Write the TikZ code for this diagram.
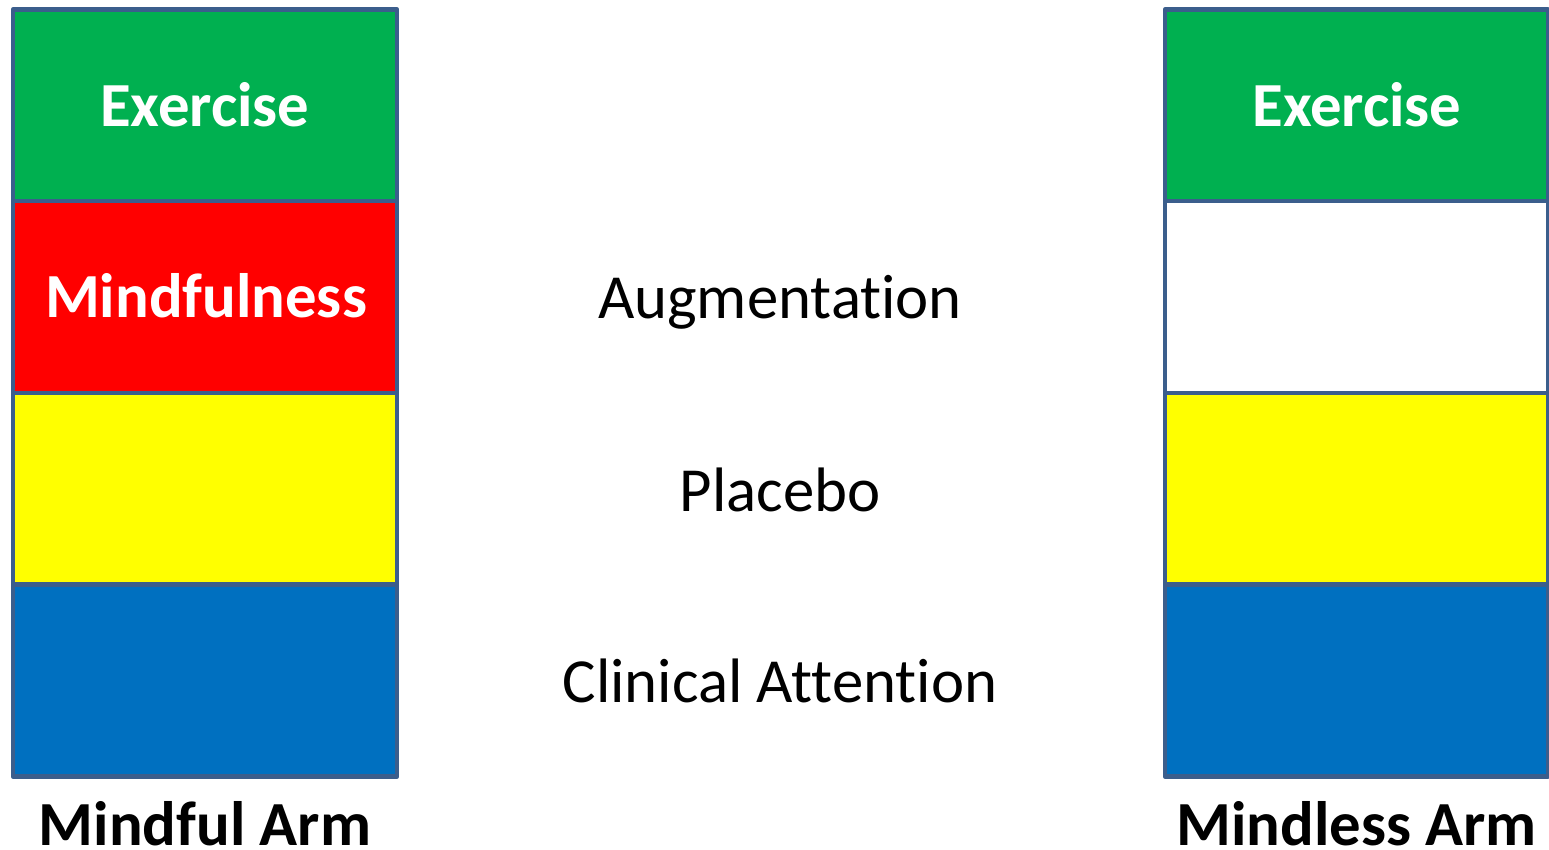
\documentclass[tikz,border=0pt]{standalone}
\usepackage{fontspec}
\setmainfont{Carlito}[Ligatures={NoCommon,NoContextual,NoRare}]
\definecolor{cgreen}{HTML}{00B050}
\definecolor{cred}{HTML}{FF0000}
\definecolor{cyellow}{HTML}{FFFF00}
\definecolor{cblue}{HTML}{0070C0}
\definecolor{cborder}{HTML}{3B5E8C}
\tikzset{
  cell/.style={draw=cborder, line width=4.5bp, line join=round, inner sep=0pt,
    minimum height=191.75bp, rectangle},
  lcell/.style={cell, minimum width=384bp},
  rcell/.style={cell, minimum width=383bp},
  celltext/.style={anchor=base, inner sep=0pt, text=white, font=\fontsize{63}{75}\selectfont\bfseries},
  midtext/.style={anchor=base, inner sep=0pt, text=black, font=\fontsize{63}{75}\selectfont},
  armtext/.style={anchor=base, inner sep=0pt, text=black, font=\fontsize{63}{75}\selectfont\bfseries}
}
\begin{document}
\begin{tikzpicture}[x=1bp, y=-1bp]
\useasboundingbox (0,0) rectangle (1549,849);
\fill[white] (0,0) rectangle (1549,849);
% left column
\node[lcell, fill=cgreen]  (lex)  at (205,105.4) {};
\node[lcell, fill=cred]    (lmi)  at (205,297.1) {};
\node[lcell, fill=cyellow] (lpl)  at (205,488.9) {};
\node[lcell, fill=cblue]   (lcl)  at (205,680.6) {};
% right column
\node[rcell, fill=cgreen]  (rex)  at (1356.5,105.4) {};
\node[rcell, fill=white]   (rau)  at (1356.5,297.1) {};
\node[rcell, fill=cyellow] (rpl)  at (1356.5,488.9) {};
\node[rcell, fill=cblue]   (rcl)  at (1356.5,680.6) {};
% texts
\node[celltext] (tlex) at (205,126.7) {Exercise};
\node[celltext] (tlmi) at (206,317.5) {Mindfulness};
\node[celltext] (trex) at (1357,126.7) {Exercise};
\node[midtext] (tau) at (780,318.5) {Augmentation};
\node[midtext] (tpl) at (780,511) {Placebo};
\node[midtext] (tcl) at (780,702.5) {Clinical Attention};
\node[armtext] (tma) at (205,845.5) {Mindful Arm};
\node[armtext] (tml) at (1356.5,845.5) {Mindless Arm};
\end{tikzpicture}
\end{document}
